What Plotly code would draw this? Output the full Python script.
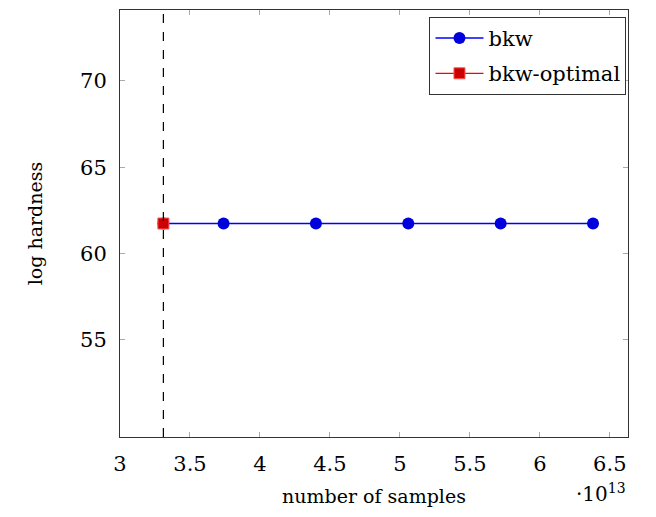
import plotly.graph_objects as go

# data (x in units of 1e13 samples)
bkw_samples = [3.31, 3.74, 4.40, 5.06, 5.72, 6.38]
bkw_hardness = [61.74, 61.74, 61.74, 61.74, 61.74, 61.74]
opt_samples = [3.31]
opt_hardness = [61.74]
x_ticks = [3, 3.5, 4, 4.5, 5, 5.5, 6, 6.5]
y_ticks = [55, 60, 65, 70]

FONT = "DejaVu Serif"

fig = go.Figure()
fig.add_trace(go.Scatter(
    x=bkw_samples, y=bkw_hardness, mode="lines+markers", name="bkw",
    legendgroup="a",
    line=dict(color="#0000ff", width=1.3),
    marker=dict(symbol="circle", size=12, color="#0000dd", line=dict(width=0)),
))
fig.add_trace(go.Scatter(
    x=opt_samples, y=opt_hardness, mode="lines+markers", name="bkw-optimal",
    legendgroup="b",
    line=dict(color="#ff0000", width=1.3),
    marker=dict(symbol="square", size=11, color="#cc0000", line=dict(color="#ff5555", width=1)),
))

fig.add_shape(type="line", xref="x", yref="paper",
              x0=opt_samples[0], x1=opt_samples[0], y0=0, y1=1,
              line=dict(color="black", width=1.2, dash="dash"))

axis_common = dict(
    showgrid=False, zeroline=False, showline=True, linecolor="#333333", linewidth=1,
    mirror="allticks", ticks="inside", ticklen=5, tickcolor="#aaaaaa", tickwidth=1,
    tickfont=dict(family=FONT, size=21, color="black"),
    ticklabelstandoff=8,
)

fig.update_layout(
    width=656, height=517,
    margin=dict(l=112, r=36, t=2, b=88),
    paper_bgcolor="white", plot_bgcolor="white",
    font=dict(family=FONT, color="black"),
    showlegend=True,
    legend=dict(
        x=0.997, y=0.984, xanchor="right", yanchor="top",
        bordercolor="#333333", borderwidth=1, bgcolor="white",
        font=dict(family=FONT, size=21, color="black"),
        itemwidth=48, traceorder="grouped", tracegroupgap=5,
    ),
    xaxis=dict(range=[3.0, 6.63], tickvals=x_ticks,
               ticktext=[str(v) for v in x_ticks],
               title=dict(text="number of samples", font=dict(family=FONT, size=19), standoff=14),
               **axis_common),
    yaxis=dict(range=[49.37, 74.11], tickvals=y_ticks,
               title=dict(text="log hardness", font=dict(family=FONT, size=19), standoff=32),
               **axis_common),
)

fig.add_annotation(xref="paper", yref="paper", x=1.0, y=-0.13, xanchor="right", yanchor="middle",
                   text="·10<sup>13</sup>", showarrow=False,
                   font=dict(family=FONT, size=20, color="black"))

fig.write_html("out.html")
